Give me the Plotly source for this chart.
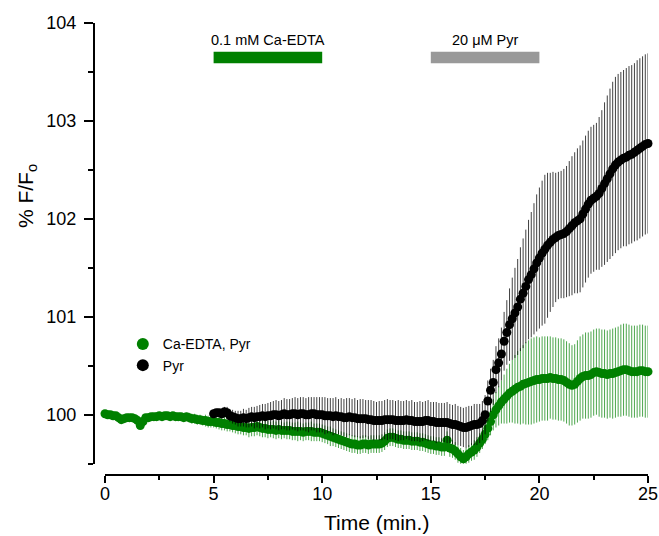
import plotly.graph_objects as go

# ---------------- data ----------------
dt = 0.125                 # sampling interval (min)
green_start = 0.0          # Ca-EDTA, Pyr trace starts at t = 0
black_start = 5.0          # Pyr trace starts at t = 5

green_name = "Ca-EDTA, Pyr"
green_mean = [
    100.01, 100.00, 100.00, 99.99, 99.99, 99.97, 99.95, 99.96, 99.97, 99.97,
    99.97, 99.96, 99.94, 99.89, 99.93, 99.97, 99.97, 99.98, 99.98, 99.98,
    99.99, 99.98, 99.99, 99.99, 99.98, 99.99, 99.98, 99.98, 99.98, 99.97,
    99.98, 99.97, 99.96, 99.96, 99.95, 99.95, 99.94, 99.94, 99.93, 99.93,
    99.93, 99.92, 99.92, 99.91, 99.91, 99.90, 99.90, 99.89, 99.89, 99.88,
    99.88, 99.87, 99.87, 99.86, 99.87, 99.87, 99.88, 99.87, 99.86, 99.86,
    99.85, 99.85, 99.85, 99.84, 99.85, 99.84, 99.84, 99.84, 99.84, 99.83,
    99.83, 99.83, 99.83, 99.82, 99.83, 99.83, 99.83, 99.82, 99.82, 99.82,
    99.81, 99.80, 99.79, 99.78, 99.77, 99.76, 99.75, 99.74, 99.73, 99.72,
    99.71, 99.70, 99.70, 99.69, 99.69, 99.70, 99.70, 99.69, 99.70, 99.70,
    99.70, 99.70, 99.71, 99.73, 99.76, 99.77, 99.77, 99.76, 99.75, 99.75,
    99.74, 99.74, 99.74, 99.73, 99.73, 99.73, 99.72, 99.72, 99.71, 99.70,
    99.69, 99.69, 99.68, 99.68, 99.67, 99.67, 99.74, 99.66, 99.65, 99.63,
    99.60, 99.57, 99.55, 99.57, 99.60, 99.62, 99.64, 99.67, 99.71, 99.75,
    99.80, 99.86, 99.93, 100.00, 100.05, 100.09, 100.13, 100.16, 100.19, 100.22,
    100.24, 100.26, 100.28, 100.29, 100.31, 100.32, 100.33, 100.34, 100.35, 100.36,
    100.36, 100.37, 100.37, 100.37, 100.38, 100.37, 100.37, 100.36, 100.36, 100.35,
    100.33, 100.31, 100.30, 100.31, 100.34, 100.37, 100.39, 100.40, 100.40, 100.41,
    100.43, 100.44, 100.43, 100.42, 100.42, 100.41, 100.42, 100.42, 100.43, 100.44,
    100.45, 100.46, 100.46, 100.45, 100.44, 100.44, 100.44, 100.45, 100.45, 100.44,
    100.44,
]
green_err = [
    0.02, 0.02, 0.02, 0.02, 0.02, 0.02, 0.02, 0.02, 0.02, 0.02,
    0.02, 0.02, 0.02, 0.02, 0.02, 0.02, 0.03, 0.03, 0.03, 0.03,
    0.03, 0.03, 0.03, 0.03, 0.03, 0.03, 0.03, 0.03, 0.04, 0.04,
    0.04, 0.05, 0.05, 0.05, 0.05, 0.05, 0.05, 0.06, 0.06, 0.06,
    0.06, 0.06, 0.07, 0.07, 0.07, 0.07, 0.07, 0.07, 0.08, 0.08,
    0.08, 0.08, 0.08, 0.09, 0.09, 0.09, 0.09, 0.09, 0.09, 0.09,
    0.09, 0.08, 0.09, 0.09, 0.09, 0.09, 0.08, 0.09, 0.09, 0.09,
    0.09, 0.10, 0.09, 0.09, 0.09, 0.09, 0.10, 0.09, 0.09, 0.09,
    0.09, 0.09, 0.09, 0.10, 0.09, 0.09, 0.09, 0.09, 0.09, 0.09,
    0.09, 0.09, 0.09, 0.09, 0.09, 0.09, 0.09, 0.09, 0.09, 0.09,
    0.09, 0.09, 0.09, 0.09, 0.09, 0.09, 0.09, 0.09, 0.09, 0.09,
    0.09, 0.09, 0.09, 0.09, 0.09, 0.09, 0.09, 0.09, 0.09, 0.09,
    0.09, 0.09, 0.09, 0.09, 0.09, 0.09, 0.09, 0.09, 0.09, 0.09,
    0.09, 0.09, 0.09, 0.09, 0.09, 0.09, 0.10, 0.10, 0.10, 0.10,
    0.10, 0.12, 0.14, 0.16, 0.18, 0.20, 0.22, 0.25, 0.28, 0.30,
    0.32, 0.35, 0.37, 0.39, 0.40, 0.42, 0.43, 0.44, 0.44, 0.44,
    0.43, 0.43, 0.43, 0.43, 0.42, 0.42, 0.42, 0.42, 0.42, 0.42,
    0.42, 0.42, 0.41, 0.41, 0.42, 0.43, 0.43, 0.44, 0.44, 0.44,
    0.44, 0.44, 0.45, 0.45, 0.45, 0.45, 0.45, 0.46, 0.46, 0.46,
    0.47, 0.47, 0.47, 0.47, 0.47, 0.47, 0.47, 0.47, 0.47, 0.47,
    0.47,
]

black_name = "Pyr"
black_mean = [
    100.01, 100.02, 100.02, 100.01, 100.03, 100.02, 99.99, 99.98, 99.97, 99.96,
    99.96, 99.97, 99.96, 99.97, 99.98, 99.97, 99.98, 99.98, 99.99, 99.98,
    99.99, 99.99, 100.00, 100.00, 99.99, 100.00, 100.01, 100.00, 100.00, 100.01,
    100.01, 100.00, 100.01, 100.01, 100.00, 100.00, 100.01, 100.01, 100.00, 100.00,
    100.00, 99.99, 99.99, 99.99, 99.98, 99.99, 99.98, 99.98, 99.97, 99.97,
    99.98, 99.97, 99.97, 99.96, 99.96, 99.96, 99.96, 99.95, 99.95, 99.94,
    99.94, 99.94, 99.94, 99.95, 99.95, 99.95, 99.95, 99.94, 99.94, 99.94,
    99.94, 99.95, 99.94, 99.94, 99.93, 99.93, 99.93, 99.93, 99.94, 99.94,
    99.93, 99.93, 99.92, 99.92, 99.92, 99.92, 99.92, 99.91, 99.90, 99.90,
    99.89, 99.88, 99.87, 99.87, 99.88, 99.89, 99.90, 99.90, 99.91, 99.94,
    100.00, 100.14, 100.25, 100.33, 100.46, 100.53, 100.62, 100.75, 100.84, 100.92,
    100.98, 101.04, 101.10, 101.18, 101.24, 101.31, 101.38, 101.43, 101.49, 101.55,
    101.60, 101.65, 101.69, 101.73, 101.76, 101.79, 101.81, 101.83, 101.84, 101.85,
    101.87, 101.90, 101.93, 101.96, 101.98, 102.00, 102.05, 102.10, 102.15, 102.19,
    102.21, 102.23, 102.26, 102.31, 102.36, 102.41, 102.46, 102.51, 102.55, 102.58,
    102.60, 102.62, 102.63, 102.65, 102.66, 102.68, 102.70, 102.72, 102.74, 102.76,
    102.77,
]
black_err = [
    0.03, 0.04, 0.04, 0.05, 0.05, 0.06, 0.06, 0.07, 0.07, 0.08,
    0.08, 0.09, 0.09, 0.10, 0.10, 0.11, 0.11, 0.12, 0.12, 0.13,
    0.13, 0.14, 0.14, 0.15, 0.15, 0.15, 0.16, 0.16, 0.16, 0.16,
    0.17, 0.17, 0.17, 0.17, 0.17, 0.18, 0.17, 0.17, 0.18, 0.18,
    0.18, 0.19, 0.18, 0.18, 0.19, 0.19, 0.18, 0.19, 0.19, 0.20,
    0.19, 0.19, 0.20, 0.19, 0.20, 0.20, 0.19, 0.20, 0.20, 0.20,
    0.19, 0.20, 0.20, 0.20, 0.21, 0.20, 0.20, 0.20, 0.21, 0.20,
    0.20, 0.20, 0.20, 0.21, 0.20, 0.20, 0.21, 0.20, 0.20, 0.21,
    0.20, 0.20, 0.21, 0.20, 0.20, 0.20, 0.21, 0.20, 0.20, 0.21,
    0.20, 0.20, 0.20, 0.21, 0.21, 0.20, 0.21, 0.21, 0.20, 0.20,
    0.20, 0.21, 0.22, 0.23, 0.24, 0.25, 0.27, 0.30, 0.33, 0.37,
    0.42, 0.46, 0.49, 0.53, 0.56, 0.58, 0.61, 0.64, 0.67, 0.70,
    0.72, 0.74, 0.76, 0.74, 0.71, 0.69, 0.66, 0.65, 0.65, 0.66,
    0.67, 0.69, 0.71, 0.72, 0.74, 0.75, 0.75, 0.75, 0.75, 0.75,
    0.75, 0.75, 0.78, 0.80, 0.83, 0.85, 0.87, 0.89, 0.90, 0.90,
    0.90, 0.90, 0.91, 0.91, 0.91, 0.91, 0.92, 0.92, 0.92, 0.92,
    0.92,
]

# treatment bars (start, end in minutes) and their labels
treat_labels = ["0.1 mM Ca-EDTA", "20 \u03bcM Pyr"]
treat_start = [5.0, 15.0]
treat_end = [10.0, 20.0]
treat_colors = ["#008000", "#999999"]

x_ticks = [0, 5, 10, 15, 20, 25]
y_ticks = [100, 101, 102, 103, 104]
x_title = "Time (min.)"
y_title = "% F/F<sub>o</sub>"

green_t = [green_start + i * dt for i in range(len(green_mean))]
black_t = [black_start + i * dt for i in range(len(black_mean))]

FONT = "Arial, Liberation Sans, sans-serif"

fig = go.Figure()
fig.add_trace(go.Scatter(
    x=green_t, y=green_mean, mode="markers", name=green_name,
    marker=dict(color="#008000", size=9, line=dict(width=0)),
    error_y=dict(type="data", array=green_err, visible=True,
                 color="rgba(0,128,0,0.7)", thickness=1, width=0),
    cliponaxis=False,
))
fig.add_trace(go.Scatter(
    x=black_t, y=black_mean, mode="markers", name=black_name,
    marker=dict(color="#000000", size=9, line=dict(width=0)),
    error_y=dict(type="data", array=black_err, visible=True,
                 color="rgba(0,0,0,0.75)", thickness=1, width=0),
    cliponaxis=False,
))

for lab, s, e, c in zip(treat_labels, treat_start, treat_end, treat_colors):
    fig.add_shape(type="rect", xref="x", yref="y", x0=s, x1=e,
                  y0=103.588, y1=103.707, fillcolor=c, line=dict(width=0))
    fig.add_annotation(x=(s + e) / 2, y=103.83, xref="x", yref="y",
                       text=lab, showarrow=False,
                       font=dict(family=FONT, size=14.5, color="#000"))

# axis titles as annotations (placed like the reference)
fig.add_annotation(x=0, y=0.617, xref="paper", yref="paper", xshift=-67,
                   text=y_title, textangle=-90, showarrow=False,
                   xanchor="center", yanchor="middle",
                   font=dict(family=FONT, size=21, color="#000"))
fig.add_annotation(x=0.5099, y=0, xref="paper", yref="paper", yshift=-47,
                   text=x_title, showarrow=False,
                   xanchor="center", yanchor="middle",
                   font=dict(family=FONT, size=21, color="#000"))

fig.update_layout(
    width=659, height=536,
    margin=dict(l=94, r=11, t=23, b=61),
    paper_bgcolor="white", plot_bgcolor="white",
    font=dict(family=FONT, color="#000"),
    showlegend=True,
    legend=dict(x=0.052, y=0.3245, xanchor="left", yanchor="top",
                bgcolor="rgba(0,0,0,0)", font=dict(family=FONT, size=14),
                tracegroupgap=0, itemsizing="constant"),
    xaxis=dict(
        domain=[0.01986, 1], range=[0, 25], anchor="free", position=0,
        automargin=False,
        tickmode="array", tickvals=x_ticks, ticktext=[str(v) for v in x_ticks],
        ticks="outside", ticklen=7, tickwidth=2, tickcolor="#000",
        minor=dict(dtick=2.5, tick0=0, ticks="outside", ticklen=4,
                   tickwidth=2, tickcolor="#000"),
        showline=True, linewidth=2, linecolor="#000",
        showgrid=False, zeroline=False,
        tickfont=dict(family=FONT, size=18),
        ticklabelstandoff=-5,
    ),
    yaxis=dict(
        domain=[0.025, 1], range=[99.5, 104], anchor="free", position=0,
        automargin=False,
        tickmode="array", tickvals=y_ticks, ticktext=[str(v) for v in y_ticks],
        ticks="outside", ticklen=9, tickwidth=2, tickcolor="#000",
        minor=dict(dtick=0.5, tick0=99.5, ticks="outside", ticklen=5,
                   tickwidth=2, tickcolor="#000"),
        showline=True, linewidth=2, linecolor="#000",
        showgrid=False, zeroline=False,
        tickfont=dict(family=FONT, size=18),
        ticklabelstandoff=4,
    ),
)

fig.write_html(
    "out.html",
    config={"displayModeBar": False},
    post_script="document.body.style.margin='0px';"
                "document.body.style.overflow='hidden';"
                "document.documentElement.style.overflow='hidden';",
)
